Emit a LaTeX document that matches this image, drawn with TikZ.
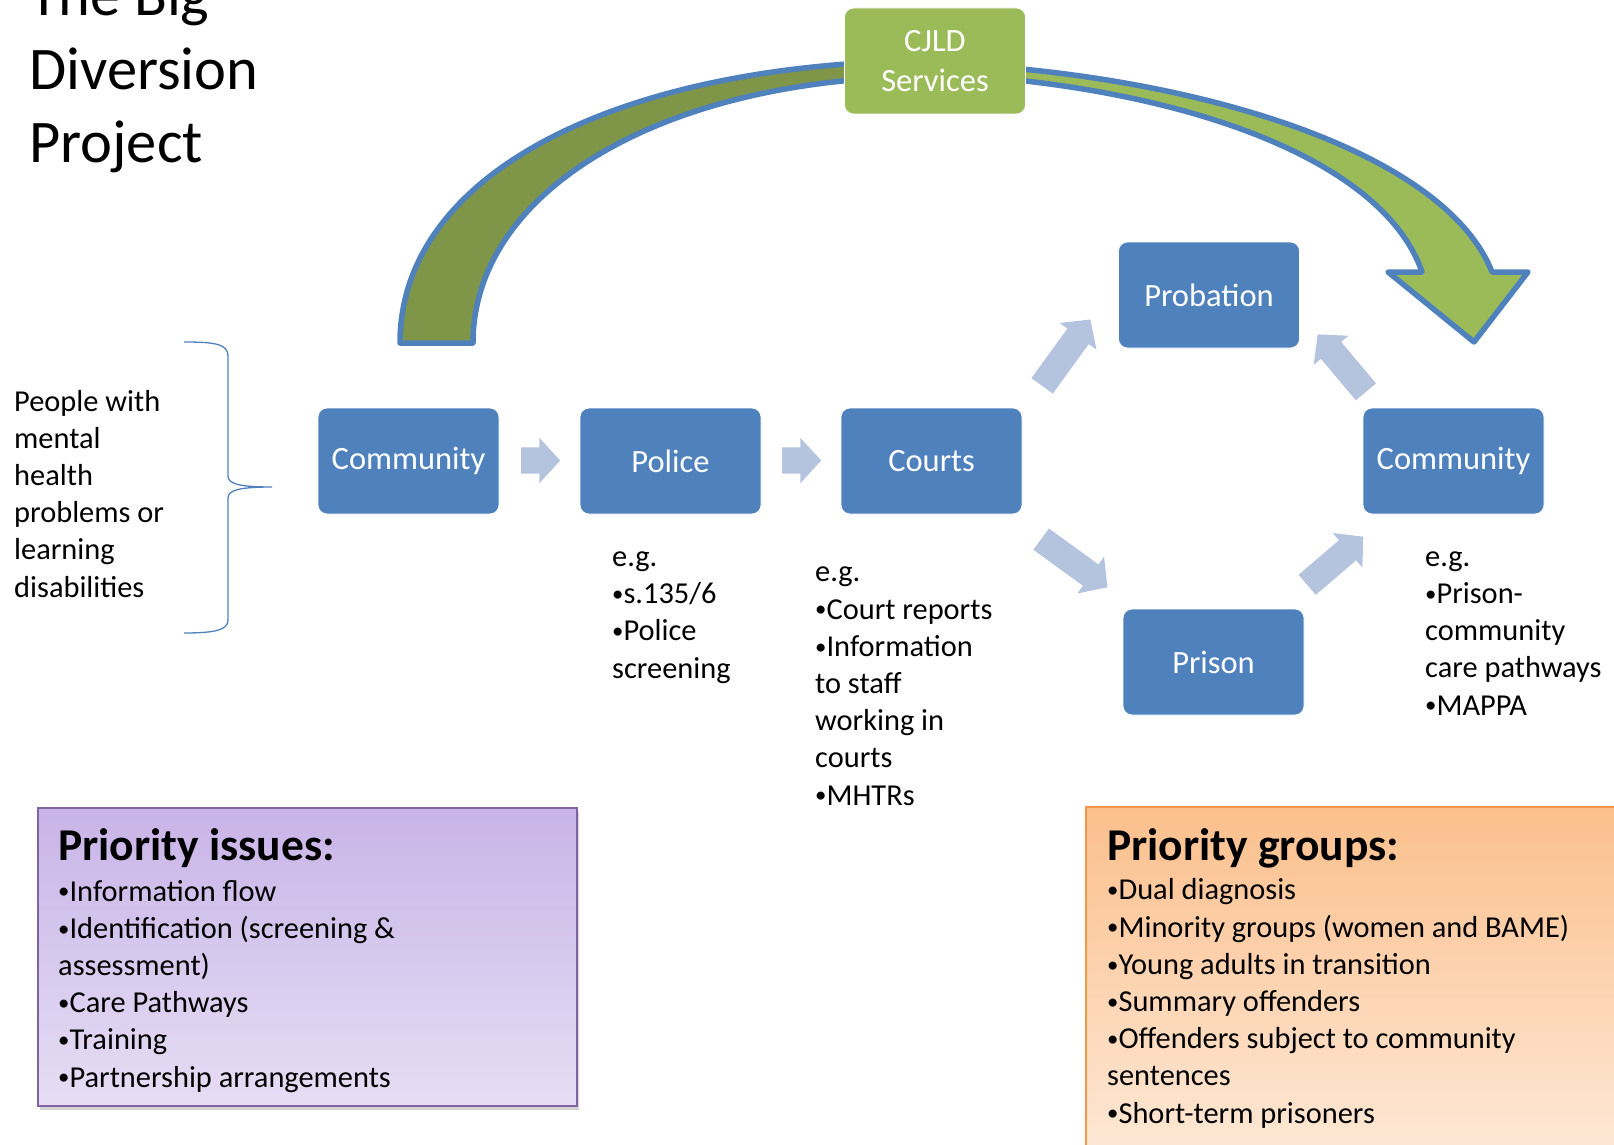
\documentclass[tikz,border=0pt]{standalone}
\usepackage{fontspec}
\setmainfont{Carlito}
\usetikzlibrary{shapes.arrows,shadows}
\newcommand{\bul}{\raisebox{.07em}{\scalebox{.75}{•}}}

\begin{document}
\begin{tikzpicture}[x=1pt,y=-1pt,
    stage/.style={rectangle, rounded corners=9pt, fill=stageblue, draw=white, line width=0.8pt,
        minimum width=181pt, minimum height=106pt, text=white, align=center,
        font=\fontsize{32.5}{39.6}\selectfont},
    flow/.style={single arrow, fill=flowblue, draw=none, inner xsep=0pt, inner ysep=13pt,
        anchor=tail, single arrow head extend=9.5pt, single arrow tip angle=95},
    note/.style={anchor=base west, align=left, inner sep=0pt,
        font=\fontsize{30.4}{37.2}\selectfont},
    head/.style={anchor=base west, inner sep=0pt, font=\fontsize{45.5}{50}\selectfont\bfseries},
    band/.style={draw=stageblue, line width=5.5pt, line join=round}]
        %colores
        \definecolor{stageblue}{RGB}{79,129,189}
        \definecolor{flowblue}{RGB}{180,195,222}
        \definecolor{cjldgreen}{RGB}{155,187,89}
        \definecolor{olive}{RGB}{127,149,71}
        \definecolor{issuefill}{RGB}{200,180,231}
        \definecolor{issueline}{RGB}{128,100,162}
        \definecolor{groupfill}{RGB}{251,191,140}
        \definecolor{groupline}{RGB}{247,150,70}

        \path[use as bounding box] (0,0) rectangle (1614,1145);
        \clip (0,0) rectangle (1614,1145);

        %titulo
        \node[anchor=base west, align=left, inner sep=0pt, font=\fontsize{60.5}{73}\selectfont]
            (title) at (29,162) {The Big\\Diversion\\Project};

        %arcos
        \filldraw[band, fill=olive] (400,343) .. controls (400,180) and (600,75) .. (880,62)
            -- (880,78) .. controls (640,92) and (473,200) .. (473,343) -- cycle;
        \filldraw[band, fill=cjldgreen] (880,62) .. controls (1150,62) and (1440,140) .. (1492,272)
            -- (1528,272) -- (1474,342) -- (1388,272) -- (1422,272)
            .. controls (1380,150) and (1150,75) .. (880,72) -- cycle;

        %cajas
        \node[stage, fill=cjldgreen] (cjld) at (935,61) {CJLD\\Services};
        \node[stage] (comm1) at (408.5,461) {Community};
        \node[stage] (police) at (670.5,461) {Police};
        \node[stage] (courts) at (931.5,461) {Courts};
        \node[stage] (probation) at (1209,295) {Probation};
        \node[stage] (prison) at (1213.5,662) {Prison};
        \node[stage] (comm2) at (1453.5,461) {Community};

        %flechas
        \node[flow, minimum height=39pt] (toPolice) at (521,460.5) {};
        \node[flow, minimum height=39pt] (toCourts) at (782,460.5) {};
        \node[flow, minimum height=82pt, rotate=54] (toProbation) at (1042,386) {};
        \node[flow, minimum height=82pt, rotate=-36] (toPrison) at (1041,539) {};
        \node[flow, minimum height=74pt, rotate=40.6] (toComm) at (1307,585) {};
        \node[flow, minimum height=75pt, rotate=130] (backProbation) at (1366,392) {};

        %llave
        \draw[stageblue, line width=1.3pt] (184,342) .. controls (215,342) and (228,344) .. (228,356)
            -- (228,476) .. controls (228,484) and (240,487) .. (272,487)
            .. controls (240,487) and (228,490) .. (228,498) -- (228,620)
            .. controls (228,630) and (215,633) .. (184,633);
        \node[note] (people) at (14,597)
            {People with\\mental\\health\\problems or\\learning\\disabilities};

        %ejemplos
        \node[note] (egPolice) at (612,678) {e.g.\\\bul s.135/6\\\bul Police\\screening};
        \node[note] (egCourts) at (815,805)
            {e.g.\\\bul Court reports\\\bul Information\\to staff\\working in\\courts\\\bul MHTRs};
        \node[note] (egComm) at (1425,715)
            {e.g.\\\bul Prison-\\community\\care pathways\\\bul MAPPA};

        %prioridades
        \path[drop shadow={shadow xshift=2pt, shadow yshift=-4pt, opacity=.35},
            top color=issuefill, middle color=issuefill, bottom color=issuefill!45!white,
            draw=issueline, line width=1.5pt] (38,808) rectangle (577,1106);
        \node[head] (issuesHead) at (58,860) {Priority issues:};
        \node[note] (issues) at (58,1087)
            {\bul Information flow\\\bul Identification (screening \&\\assessment)\\\bul Care Pathways\\\bul Training\\\bul Partnership arrangements};

        \path[top color=groupfill, middle color=groupfill, bottom color=groupfill!30!white,
            draw=groupline, line width=1.5pt] (1086,807) rectangle (1640,1185);
        \node[head] (groupsHead) at (1107,860) {Priority groups:};
        \node[note] (groups) at (1107,1123)
            {\bul Dual diagnosis\\\bul Minority groups (women and BAME)\\\bul Young adults in transition\\\bul Summary offenders\\\bul Offenders subject to community\\sentences\\\bul Short-term prisoners};
    \end{tikzpicture}
\end{document}
